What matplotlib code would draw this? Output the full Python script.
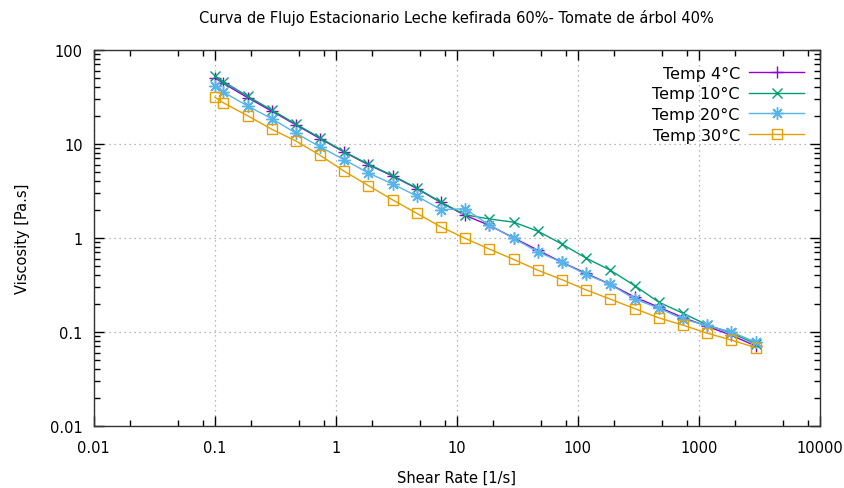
import matplotlib
matplotlib.use("Agg")
import matplotlib.pyplot as plt
from matplotlib.ticker import LogLocator, NullFormatter, FixedLocator, FixedFormatter

# Shear rate [1/s]
shear_rate = [0.1, 0.118, 0.187, 0.296, 0.47, 0.74, 1.17, 1.86, 2.95, 4.68, 7.4, 11.7,
              18.6, 29.5, 46.8, 74, 117, 186, 295, 468, 740, 1170, 1860, 2950]

# Viscosity [Pa.s] for each temperature
temp_4 = [50.5, 44, 31, 22.3, 15.9, 11.4, 8.2, 6.0, 4.55, 3.35, 2.38, 1.74,
          1.36, 1.0, 0.74, 0.55, 0.42, 0.32, 0.235, 0.183, 0.142, 0.115, 0.092, 0.071]
temp_10 = [52.5, 46, 32.1, 22.9, 16.2, 11.6, 8.28, 6.08, 4.6, 3.38, 2.4, 1.76,
           1.59, 1.47, 1.18, 0.86, 0.61, 0.453, 0.311, 0.207, 0.158, 0.119, 0.097, 0.075]
temp_20 = [40.8, 35.5, 25.3, 18.5, 13, 9.3, 6.8, 4.9, 3.75, 2.78, 2.0, 2.04,
           1.37, 0.99, 0.71, 0.55, 0.41, 0.32, 0.224, 0.179, 0.137, 0.117, 0.1, 0.078]
temp_30 = [31.4, 27.3, 19.9, 14.3, 10.7, 7.58, 5.13, 3.6, 2.54, 1.82, 1.31, 0.99,
           0.76, 0.59, 0.453, 0.36, 0.28, 0.223, 0.177, 0.141, 0.118, 0.097, 0.082, 0.068]

labels = ["Temp 4°C", "Temp 10°C", "Temp 20°C", "Temp 30°C"]
x_ticks = [0.01, 0.1, 1, 10, 100, 1000, 10000]
x_ticklabels = ["0.01", "0.1", "1", "10", "100", "1000", "10000"]
y_ticks = [0.01, 0.1, 1, 10, 100]
y_ticklabels = ["0.01", "0.1", "1", "10", "100"]

fig = plt.figure(figsize=(8.45, 4.89), dpi=100)
ax = fig.add_axes([0.111, 0.127, 0.859, 0.769])

ax.plot(shear_rate, temp_4, color="#9400d3", lw=1.0, marker="+", ms=9, mew=1.0, label=labels[0])
ax.plot(shear_rate, temp_10, color="#009e73", lw=1.0, marker="x", ms=7, mew=1.0, label=labels[1])
ax.plot(shear_rate, temp_20, color="#56b4e9", lw=1.0, marker=(8, 2, 0), ms=9, mew=1.0, label=labels[2])
ax.plot(shear_rate, temp_30, color="#e69f00", lw=1.0, marker="s", ms=7, mew=1.0,
        mfc="none", label=labels[3])

ax.set_xscale("log")
ax.set_yscale("log")
ax.set_xlim(0.01, 10000)
ax.set_ylim(0.01, 100)

ax.xaxis.set_major_locator(FixedLocator(x_ticks))
ax.xaxis.set_major_formatter(FixedFormatter(x_ticklabels))
ax.xaxis.set_minor_locator(LogLocator(base=10, subs=[2, 5, 8], numticks=20))
ax.xaxis.set_minor_formatter(NullFormatter())
ax.yaxis.set_major_locator(FixedLocator(y_ticks))
ax.yaxis.set_major_formatter(FixedFormatter(y_ticklabels))
ax.yaxis.set_minor_locator(LogLocator(base=10, subs=range(2, 10), numticks=20))
ax.yaxis.set_minor_formatter(NullFormatter())

ax.tick_params(which="both", direction="in", top=True, right=True, labelsize=10.5)
ax.tick_params(axis="x", pad=10)
ax.tick_params(axis="y", pad=8)
ax.tick_params(which="major", length=7, width=1.0)
ax.tick_params(which="minor", length=4, width=1.0)

ax.grid(True, which="major", color="#a0a0a0", linestyle=(0, (1, 3)), lw=0.9)

for sp in ax.spines.values():
    sp.set_linewidth(1.0)
    sp.set_color("#333333")

ax.set_title("Curva de Flujo Estacionario Leche kefirada 60%- Tomate de árbol 40%",
             fontsize=10.5, pad=20)
ax.set_xlabel("Shear Rate [1/s]", fontsize=10.5, labelpad=11)
ax.set_ylabel("Viscosity [Pa.s]", fontsize=10.5, labelpad=14)

ax.legend(loc="upper right", frameon=False, markerfirst=False, fontsize=11.5,
          handlelength=3.4, labelspacing=0.35, borderaxespad=0.6, handletextpad=0.6)

fig.savefig("out.png", dpi=100)
